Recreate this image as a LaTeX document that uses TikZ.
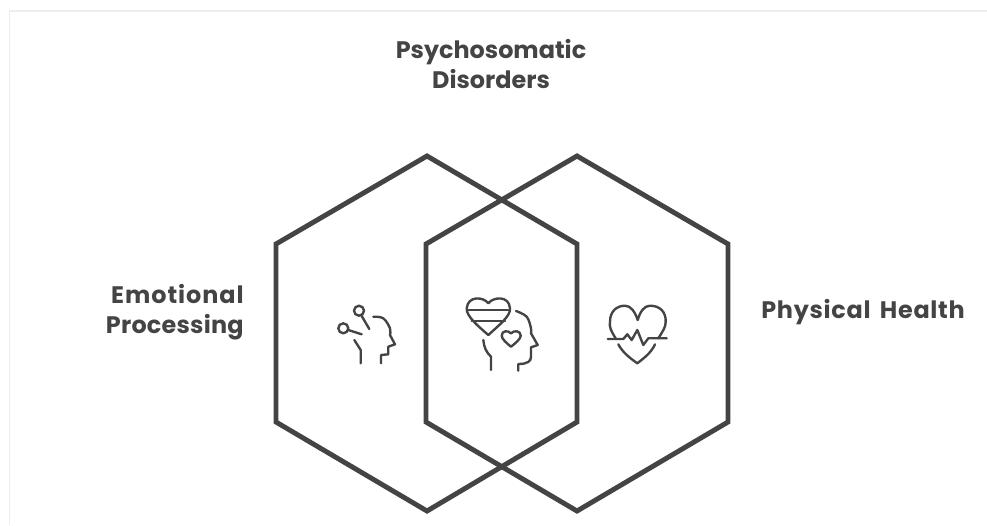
\documentclass[tikz,border=0pt]{standalone}
\usepackage{fontspec}
\setmainfont{Poppins}
\usepackage{tikz}
\definecolor{inkgray}{HTML}{444444}
\definecolor{framegray}{HTML}{EDEDED}
\tikzset{
  hexline/.style={line width=2.8pt, draw=inkgray, line join=miter},
  iconline/.style={line width=1.35pt, draw=inkgray, line cap=round, line join=round},
  caption/.style={font=\fontsize{13.6}{17}\selectfont\bfseries, text=inkgray, inner sep=0pt},
}

\begin{document}
\begin{tikzpicture}[x=0.02cm, y=-0.02cm]
      \useasboundingbox (0,0) rectangle (987,525);
      \fill[white] (0,0) rectangle (987,525);
      \draw[framegray, line width=0.9pt] (9.5,525) -- (9.5,11) -- (987,11);

      % hexagons
      \draw[hexline] (427,156) -- (577,244) -- (577,422) -- (427,511) -- (276,422) -- (276,244) -- cycle;
      \draw[hexline] (577,156) -- (728,244) -- (728,422) -- (577,511) -- (426,422) -- (426,244) -- cycle;

      % labels
      \node[caption, align=center] (disorders) at (491,64) {Psychosomatic\\Disorders};
      \node[caption, align=right, anchor=east] (emotional) at (244,312)
           {{\addfontfeature{LetterSpace=4}Emotional}\\{\addfontfeature{LetterSpace=1}Processing}};
      \node[caption, anchor=west] (physical) at (761,312)
           {\addfontfeature{LetterSpace=3}Physical\hspace{2pt} Health};

      % left icon
      \draw[iconline] (359,310.7) circle (5);
      \draw[iconline] (343.3,328.3) circle (5);
      \draw[iconline] (361.7,316) -- (369.3,329);
      \draw[iconline] (348.3,330) -- (361.7,334.3);
      \draw[iconline] (354.3,340) -- (360.7,350) -- (360.7,363.3);
      \draw[iconline] plot[smooth, tension=0.6] coordinates {(373.3,316.7) (383.3,318.3) (390,328.3) (390,335)}
           -- (395,344.3) -- (388.3,346.7) -- (388.3,354.3) -- (381,355) -- (381,363.3);

      % middle icon
      \draw[iconline] (488.3,303.3) .. controls (484,297) and (468,295) .. (466.7,308.3)
           .. controls (466,316) and (478,326) .. (488.3,335)
           .. controls (498,326) and (511,316) .. (510,308.3)
           .. controls (509,295) and (493,297) .. (488.3,303.3) -- cycle;
      \draw[iconline] (467.7,310) -- (508.3,310);
      \draw[iconline] (471.7,321) -- (505,321);
      \draw[iconline] (511,333.3) .. controls (508,330) and (501.7,330.5) .. (501.7,335.7)
           .. controls (501.7,339) and (507,343.5) .. (511,346.7)
           .. controls (515,343.5) and (520.7,339) .. (520.7,335.7)
           .. controls (520.7,330.5) and (514,330) .. (511,333.3) -- cycle;
      \draw[iconline] (483.3,340) .. controls (484,347) and (486,352) .. (491,356.7) -- (491,370);
      \draw[iconline] plot[smooth, tension=0.6] coordinates {(516,311) (526.7,316.7) (531,328.3) (531,333.3)}
           -- (537.7,345) -- (531,347.3) -- (531,356.7) .. controls (531,361) and (528,364) .. (518.3,364) -- (518.3,370.7);

      % right icon
      \draw[iconline] (615.7,338.3) .. controls (611,331) and (609,327) .. (610,321.7)
           .. controls (610,311) and (617,305.7) .. (625,305.7)
           .. controls (631,305.7) and (635,312) .. (637.7,320)
           .. controls (640,312) and (644,305.7) .. (650,305.7)
           .. controls (660,305.7) and (666,312) .. (665.7,321.7)
           .. controls (665.7,327) and (663,331) .. (658.3,338.3);
      \draw[iconline] (607.7,339) -- (623.3,339) -- (627.3,334.3) -- (631.7,340) -- (637.3,330) -- (643.3,345) -- (648.3,338.3) -- (666.7,338.3);
      \draw[iconline] (618.3,344.3) .. controls (623,353) and (630,358) .. (637.3,363.3)
           .. controls (644,358) and (651,353) .. (655,344.3);
    \end{tikzpicture}
\end{document}
